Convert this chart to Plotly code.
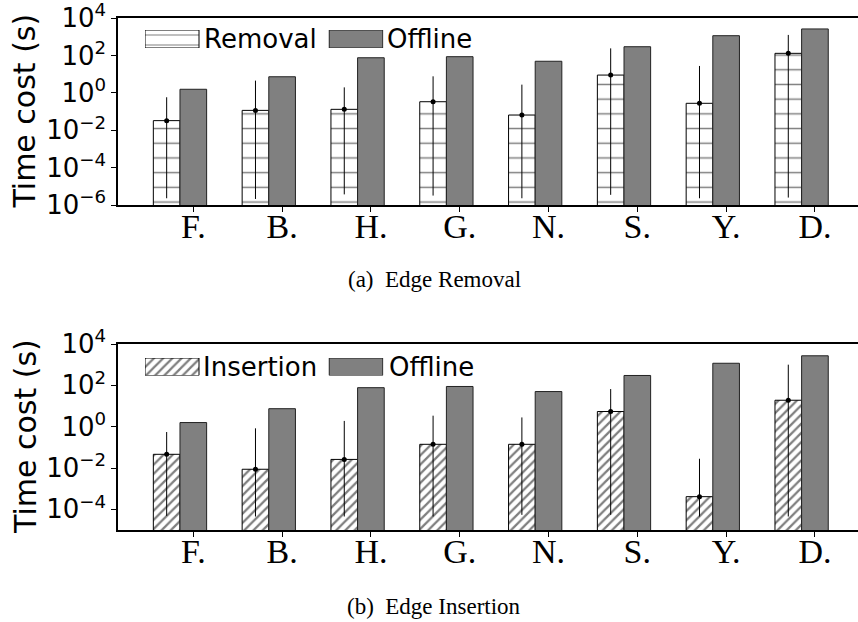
import plotly.graph_objects as go

W, H = 858, 622

categories = ["F.", "B.", "H.", "G.", "N.", "S.", "Y.", "D."]
offline = [1.58, 7.4, 77, 88, 50, 300, 1170, 2690]

removal = [0.033, 0.117, 0.133, 0.34, 0.066, 9.1, 0.28, 133]
removal_hi = [0.59, 4.6, 2.0, 7.8, 2.8, 245, 28, 1290]
removal_lo = [2.3e-6, 2.1e-6, 3.7e-6, 3.2e-6, 2.3e-6, 3.5e-6, 2.3e-6, 2.5e-6]

insertion = [0.046, 0.0087, 0.026, 0.14, 0.14, 5.4, 0.00041, 19]
insertion_hi = [0.55, 0.83, 1.9, 3.4, 2.8, 66, 0.028, 1000]
insertion_lo = [4.8e-5, 4.5e-5, 4.5e-5, 4.5e-5, 5.4e-5, 5.4e-5, 4.5e-5, 4.5e-5]

ytick_top = [1e-6, 1e-4, 1e-2, 1e0, 1e2, 1e4]
ytick_top_text = ["10<sup>\u22126</sup>", "10<sup>\u22124</sup>", "10<sup>\u22122</sup>",
                  "10<sup>0</sup>", "10<sup>2</sup>", "10<sup>4</sup>"]
ytick_bot = [1e-4, 1e-2, 1e0, 1e2, 1e4]
ytick_bot_text = ["10<sup>\u22124</sup>", "10<sup>\u22122</sup>",
                  "10<sup>0</sup>", "10<sup>2</sup>", "10<sup>4</sup>"]

BW = 0.3
idx = list(range(len(categories)))
x_off = idx
x_new = [i - BW for i in idx]

SANS = "DejaVu Sans"
SERIF = "Liberation Serif"

fig = go.Figure()


def px_x(p):
    return p / W


def px_y(p):
    return 1 - p / H


def add_panel(xa, ya, vals, hi, lo, name, shape, psize, psolid):
    fig.add_trace(go.Bar(
        x=x_new, y=vals, width=BW, name=name, xaxis=xa, yaxis=ya,
        marker=dict(color="white", line=dict(color="black", width=1),
                    pattern=dict(shape=shape, fgcolor="black", bgcolor="white",
                                 size=psize, solidity=psolid)),
        showlegend=False))
    fig.add_trace(go.Bar(
        x=x_off, y=offline, width=BW, name="Offline", xaxis=xa, yaxis=ya,
        marker=dict(color="#808080", line=dict(color="#222222", width=1)),
        showlegend=False))
    fig.add_trace(go.Scatter(
        x=x_new, y=vals, mode="markers", xaxis=xa, yaxis=ya,
        marker=dict(color="black", size=5),
        error_y=dict(type="data", symmetric=False,
                     array=[h - v for h, v in zip(hi, vals)],
                     arrayminus=[v - l for v, l in zip(vals, lo)],
                     color="black", thickness=1, width=0),
        showlegend=False))


add_panel("x", "y", removal, removal_hi, removal_lo, "Removal", "-", 14.7, 0.1)
add_panel("x2", "y2", insertion, insertion_hi, insertion_lo, "Insertion", "/", 6.5, 0.35)


# legend patches drawn on small overlay axes (pixel units)
def add_legend(xa, ya, ytop, ybot, name, shape, psize, psolid):
    fig.add_trace(go.Bar(
        x=[172], y=[1], base=0, width=[54], xaxis=xa, yaxis=ya,
        marker=dict(color="white", line=dict(color="black", width=1),
                    pattern=dict(shape=shape, fgcolor="black", bgcolor="white",
                                 size=psize, solidity=psolid)),
        showlegend=False, hoverinfo="skip"))
    fig.add_trace(go.Bar(
        x=[356], y=[1], base=0, width=[53.5], xaxis=xa, yaxis=ya,
        marker=dict(color="#808080", line=dict(color="#222222", width=1)),
        showlegend=False, hoverinfo="skip"))
    fig.layout[xa.replace("x", "xaxis")] = dict(
        domain=[px_x(145), px_x(383.5)], range=[145, 383.5], visible=False,
        anchor=ya, fixedrange=True, automargin=False)
    fig.layout[ya.replace("y", "yaxis")] = dict(
        domain=[px_y(ybot), px_y(ytop)], range=[0, 1], visible=False,
        anchor=xa, fixedrange=True, automargin=False)


add_legend("x3", "y3", 30, 48, "Removal", "-", 10, 0.1)
add_legend("x4", "y4", 358, 375.5, "Insertion", "/", 6.5, 0.35)

xcommon = dict(range=[-0.848, 7.485], tickmode="array", tickvals=idx,
               ticktext=categories, showline=True, mirror=True,
               linecolor="black", linewidth=1.5, ticks="outside", ticklen=5,
               tickcolor="black", tickwidth=1, automargin=False,
               ticklabelstandoff=-15, ticklabeloverflow="allow",
               tickfont=dict(family=SERIF, size=34, color="black"),
               showgrid=False, zeroline=False)
ycommon = dict(type="log", showline=True, linecolor="black", linewidth=1.5,
               ticks="outside", ticklen=5, tickcolor="black", tickwidth=1,
               tickfont=dict(family=SANS, size=26, color="black"),
               ticklabeloverflow="allow",
               showgrid=False, zeroline=False, tickmode="array", automargin=False)

fig.update_layout(
    width=W, height=H,
    margin=dict(l=0, r=0, t=0, b=0, autoexpand=False),
    paper_bgcolor="white", plot_bgcolor="rgba(0,0,0,0)",
    barmode="overlay",
    xaxis=dict(domain=[px_x(118), 1], anchor="y", **xcommon),
    yaxis=dict(domain=[px_y(205), px_y(18.3)], anchor="x", range=[-6, 4],
               tickvals=ytick_top, ticktext=ytick_top_text, **ycommon),
    xaxis2=dict(domain=[px_x(118), 1], anchor="y2", **xcommon),
    yaxis2=dict(domain=[px_y(530), px_y(344)], anchor="x2", range=[-5, 4],
                tickvals=ytick_bot, ticktext=ytick_bot_text, **ycommon),
)

annots = [
    dict(text="Time cost (s)", x=px_x(25), y=px_y(111.6), textangle=-90,
         font=dict(family=SANS, size=30, color="black")),
    dict(text="Time cost (s)", x=px_x(25), y=px_y(437), textangle=-90,
         font=dict(family=SANS, size=30, color="black")),
    dict(text="Removal", x=px_x(202), y=px_y(39), xanchor="left",
         font=dict(family=SANS, size=26, color="black")),
    dict(text="Offline", x=px_x(385), y=px_y(39), xanchor="left",
         font=dict(family=SANS, size=26, color="black")),
    dict(text="Insertion", x=px_x(201), y=px_y(366.5), xanchor="left",
         font=dict(family=SANS, size=26, color="black")),
    dict(text="Offline", x=px_x(387), y=px_y(366.5), xanchor="left",
         font=dict(family=SANS, size=26, color="black")),
    dict(text="(a)  Edge Removal", x=px_x(434), y=px_y(280),
         font=dict(family=SERIF, size=23, color="black")),
    dict(text="(b)  Edge Insertion", x=px_x(434), y=px_y(606),
         font=dict(family=SERIF, size=23, color="black")),
]
for a in annots:
    a.setdefault("xanchor", "center")
    a.update(xref="paper", yref="paper", yanchor="middle", showarrow=False)
fig.update_layout(annotations=annots)

fig.write_html("out.html", config={"displayModeBar": False},
               post_script="document.body.style.margin='0';")
